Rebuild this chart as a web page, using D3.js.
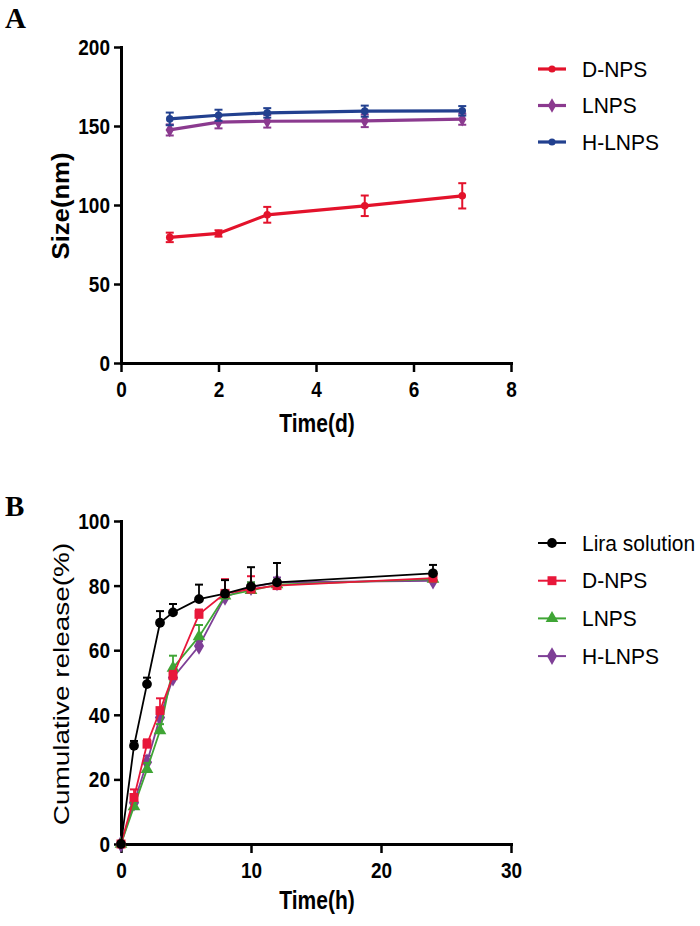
<!DOCTYPE html>
<html>
<head>
<meta charset="utf-8">
<script src="https://cdn.jsdelivr.net/npm/d3@7"></script>
<style>
  html, body { margin: 0; padding: 0; background: #ffffff; }
  svg { display: block; }
</style>
</head>
<body>
<svg id="chart" width="700" height="926"></svg>
<script>
// ---------- Panel A data ----------
const daysA = [1, 2, 3, 5, 7];
const seriesNamesA = ["D-NPS", "LNPS", "H-LNPS"];
const dnpsSize = [79.5, 82.0, 93.8, 99.5, 105.8];
const dnpsSizeErr = [3, 2, 5, 6.5, 8];
const lnpsSize = [147.5, 152.5, 153, 153.3, 154.3];
const lnpsSizeErr = [3.5, 4, 4, 4, 3.5];
const hlnpsSize = [154.5, 156.8, 158.3, 159.4, 159.6];
const hlnpsSizeErr = [4, 3.5, 3, 3.5, 3];
const xTicksA = [0, 2, 4, 6, 8];
const yTicksA = [0, 50, 100, 150, 200];

// ---------- Panel B data ----------
const hoursB = [0, 1, 2, 3, 4, 6, 8, 10, 12, 24];
const seriesNamesB = ["Lira solution", "D-NPS", "LNPS", "H-LNPS"];
const liraRel = [0, 30.4, 49.5, 68.5, 71.7, 75.8, 77.5, 79.7, 81.0, 83.8];
const liraErr = [0, 1.5, 2, 3.6, 2.6, 4.5, 4.2, 6, 6, 2.6];
const dnpsRel = [0, 14.4, 30.9, 41.3, 52.1, 71.1, 77.6, 78.9, 80.0, 82.3];
const dnpsErr = [0, 2.5, 1.5, 3.8, 1.5, 1.5, 4.4, 4, 1.5, 1];
const lnpsRel = [0, 11.6, 23.1, 35.1, 54.5, 64.2, 76.8, 78.5, 80.3, 82.0];
const lnpsErr = [0, 1.5, 2, 2, 3.8, 3.6, 1.5, 2.5, 1.5, 1];
const hlnpsRel = [0, 12.8, 25.3, 39.2, 51.5, 61.3, 76.5, 79.5, 81.0, 81.5];
const hlnpsErr = [0, 1.5, 2, 2, 1.5, 1.5, 1.5, 1.5, 1.5, 1];
const xTicksB = [0, 10, 20, 30];
const yTicksB = [0, 20, 40, 60, 80, 100];

const svg = d3.select("#chart");
const SANS = "'Liberation Sans', Arial, Helvetica, sans-serif";
const SERIF = "'Liberation Serif', 'Times New Roman', serif";

function stretchedText(g, x, y, str, opts) {
  const t = g.append("text")
    .attr("transform", `translate(${x},${y}) scale(${opts.sx || 1},${opts.sy || 1})${opts.rotate ? " rotate(" + opts.rotate + ")" : ""}`)
    .attr("text-anchor", opts.anchor || "middle")
    .attr("font-family", opts.family || SANS)
    .attr("font-size", opts.size)
    .attr("font-weight", opts.weight || "normal")
    .attr("fill", opts.fill || "#000")
    .text(str);
  return t;
}

function drawAxes(g, x, y, xTicks, yTicks) {
  const yAxis = d3.axisLeft(y).tickValues(yTicks).tickSizeInner(7).tickSizeOuter(0).tickFormat(d3.format("d"));
  const xAxis = d3.axisBottom(x).tickValues(xTicks).tickSizeInner(9).tickSizeOuter(0).tickFormat(d3.format("d"));
  const ya = g.append("g").attr("transform", `translate(${x(0)},0)`).call(yAxis);
  const xa = g.append("g").attr("transform", `translate(0,${y(0)})`).call(xAxis);
  [ya, xa].forEach(a => {
    a.select(".domain").attr("stroke", "#000").attr("stroke-width", 3).attr("stroke-linecap", "square");
    a.selectAll(".tick line").attr("stroke", "#000").attr("stroke-width", 2.5);
    a.selectAll(".tick text").remove();
  });
  ya.selectAll(".tick").each(function(d) {
    stretchedText(d3.select(this), -11, 7.5, d, {size: 19, weight: "bold", anchor: "end", sy: 1.15});
  });
  xa.selectAll(".tick").each(function(d) {
    stretchedText(d3.select(this), 0, 34, d, {size: 19, weight: "bold", anchor: "middle", sy: 1.15});
  });
}

const diamond = d3.symbol().type(d3.symbolDiamond);
const square = d3.symbol().type(d3.symbolSquare);
const triangle = d3.symbol().type(d3.symbolTriangle);
const circle = d3.symbol().type(d3.symbolCircle);

// ================= Panel A =================
const gA = svg.append("g");
const xA = d3.scaleLinear().domain([0, 8]).range([121, 511]);
const yA = d3.scaleLinear().domain([0, 200]).range([363, 47]);
drawAxes(gA, xA, yA, xTicksA, yTicksA);

stretchedText(gA, 5, 28, "A", {size: 29, weight: "bold", anchor: "start", family: SERIF});
stretchedText(gA, 317, 432, "Time(d)", {size: 21, weight: "bold", sy: 1.2});
stretchedText(gA, 69, 206, "Size(nm)", {size: 24, weight: "bold", rotate: -90, sy: 1.07});

const seriesA = [
  {name: seriesNamesA[0], vals: dnpsSize, err: dnpsSizeErr, color: "#e3122b", sym: "circle"},
  {name: seriesNamesA[1], vals: lnpsSize, err: lnpsSizeErr, color: "#8b3a8f", sym: "diamond"},
  {name: seriesNamesA[2], vals: hlnpsSize, err: hlnpsSizeErr, color: "#22408f", sym: "circle"}
];
const lineA = d3.line().x(d => xA(d.x)).y(d => yA(d.y));
seriesA.forEach(s => {
  const pts = daysA.map((d, i) => ({x: d, y: s.vals[i], e: s.err[i]}));
  const g = gA.append("g");
  // error bars
  pts.forEach(p => {
    g.append("line").attr("x1", xA(p.x)).attr("x2", xA(p.x)).attr("y1", yA(p.y - p.e)).attr("y2", yA(p.y + p.e))
      .attr("stroke", s.color).attr("stroke-width", 2);
    [p.y - p.e, p.y + p.e].forEach(v => {
      g.append("line").attr("x1", xA(p.x) - 4).attr("x2", xA(p.x) + 4).attr("y1", yA(v)).attr("y2", yA(v))
        .attr("stroke", s.color).attr("stroke-width", 2);
    });
  });
  g.append("path").datum(pts).attr("d", lineA).attr("fill", "none").attr("stroke", s.color).attr("stroke-width", 3.2);
  g.selectAll("path.m").data(pts).enter().append("path").attr("class", "m")
    .attr("transform", p => `translate(${xA(p.x)},${yA(p.y)})`)
    .attr("d", s.sym === "diamond" ? diamond.size(60)() : circle.size(45)())
    .attr("fill", s.color);
});

// legend A
seriesA.forEach((s, i) => {
  const yy = 69 + i * 36.5;
  gA.append("line").attr("x1", 538).attr("x2", 566).attr("y1", yy).attr("y2", yy).attr("stroke", s.color).attr("stroke-width", 3.2);
  gA.append("path").attr("transform", `translate(552,${yy})`)
    .attr("d", s.sym === "diamond" ? diamond.size(60)() : circle.size(40)()).attr("fill", s.color);
  stretchedText(gA, 582, yy + 7.5, s.name, {size: 21, anchor: "start", sy: 1.03});
});

// ================= Panel B =================
const gB = svg.append("g");
const xB = d3.scaleLinear().domain([0, 30]).range([121, 511]);
const yB = d3.scaleLinear().domain([0, 100]).range([844, 521]);
drawAxes(gB, xB, yB, xTicksB, yTicksB);

stretchedText(gB, 5, 516, "B", {size: 29, weight: "bold", anchor: "start", family: SERIF});
stretchedText(gB, 317, 909, "Time(h)", {size: 21, weight: "bold", sy: 1.2});
stretchedText(gB, 68.5, 684, "Cumulative release(%)", {size: 22, rotate: -90, sy: 1.27});

const seriesB = [
  {name: seriesNamesB[0], vals: liraRel, err: liraErr, color: "#000000", sym: circle.size(75)},
  {name: seriesNamesB[1], vals: dnpsRel, err: dnpsErr, color: "#e8173a", sym: square.size(80)},
  {name: seriesNamesB[2], vals: lnpsRel, err: lnpsErr, color: "#3fa535", sym: triangle.size(70)},
  {name: seriesNamesB[3], vals: hlnpsRel, err: hlnpsErr, color: "#7e3f96", sym: diamond.size(90)}
];
const lineB = d3.line().x(d => xB(d.x)).y(d => yB(d.y));
const drawOrder = [3, 2, 1, 0];
drawOrder.forEach(k => {
  const s = seriesB[k];
  const pts = hoursB.map((h, i) => ({x: h, y: s.vals[i], e: s.err[i]}));
  const g = gB.append("g");
  pts.forEach(p => {
    if (p.e <= 0) return;
    g.append("line").attr("x1", xB(p.x)).attr("x2", xB(p.x)).attr("y1", yB(p.y)).attr("y2", yB(p.y + p.e))
      .attr("stroke", s.color).attr("stroke-width", 1.8);
    g.append("line").attr("x1", xB(p.x) - 4).attr("x2", xB(p.x) + 4).attr("y1", yB(p.y + p.e)).attr("y2", yB(p.y + p.e))
      .attr("stroke", s.color).attr("stroke-width", 2);
  });
  g.append("path").datum(pts).attr("d", lineB).attr("fill", "none").attr("stroke", s.color).attr("stroke-width", 1.8);
  g.selectAll("path.m").data(pts).enter().append("path").attr("class", "m")
    .attr("transform", p => `translate(${xB(p.x)},${yB(p.y)})`)
    .attr("d", s.sym()).attr("fill", s.color);
});

// legend B
seriesB.forEach((s, i) => {
  const yy = 543 + i * 37.7;
  gB.append("line").attr("x1", 538).attr("x2", 566).attr("y1", yy).attr("y2", yy).attr("stroke", s.color).attr("stroke-width", 2);
  gB.append("path").attr("transform", `translate(552,${yy})`).attr("d", s.sym()).attr("fill", s.color);
  stretchedText(gB, 582, yy + 7.5, s.name, {size: 21, anchor: "start", sy: 1.03});
});
</script>
</body>
</html>
